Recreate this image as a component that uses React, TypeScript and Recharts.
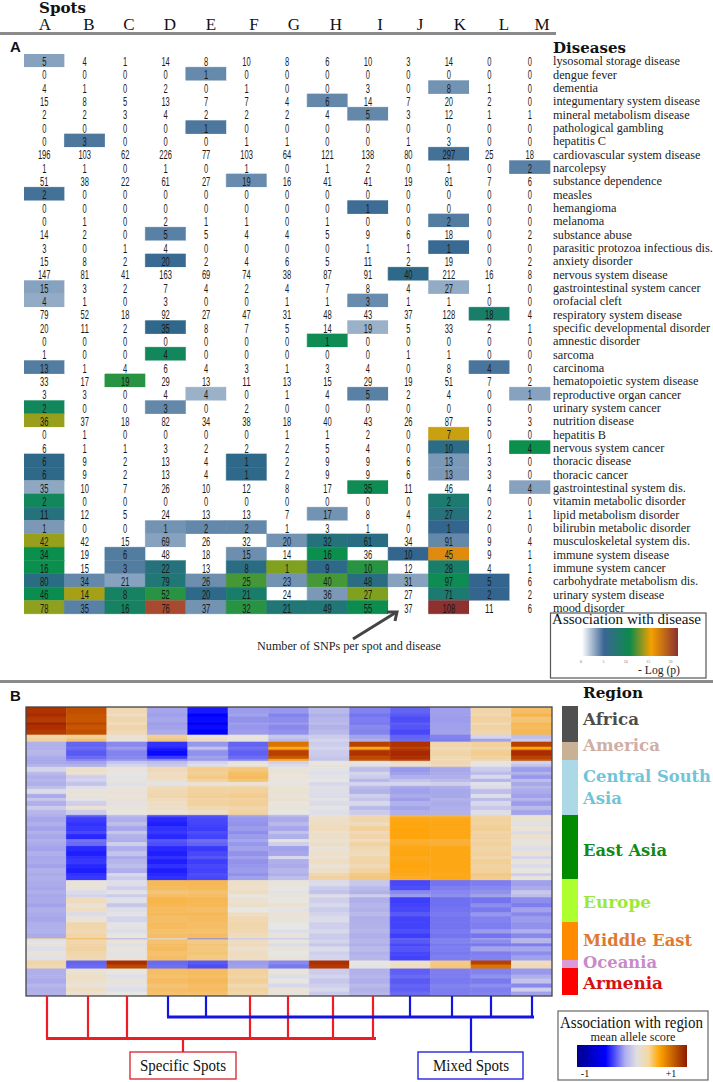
import { BarChart, Bar, Cell, XAxis, YAxis, LabelList } from "recharts";

const spots = ["A", "B", "C", "D", "E", "F", "G", "H", "I", "J", "K", "L", "M"];

const diseases = [
  "lysosomal storage disease", "dengue fever", "dementia", "integumentary system disease",
  "mineral metabolism disease", "pathological gambling", "hepatitis C", "cardiovascular system disease",
  "narcolepsy", "substance dependence", "measles", "hemangioma", "melanoma", "substance abuse",
  "parasitic protozoa infectious dis.", "anxiety disorder", "nervous system disease",
  "gastrointestinal system cancer", "orofacial cleft", "respiratory system disease",
  "specific developmental disorder", "amnestic disorder", "sarcoma", "carcinoma",
  "hematopoietic system disease", "reproductive organ cancer", "urinary system cancer",
  "nutrition disease", "hepatitis B", "nervous system cancer", "thoracic disease", "thoracic cancer",
  "gastrointestinal system dis.", "vitamin metabolic disorder", "lipid metabolism disorder",
  "bilirubin metabolic disorder", "musculoskeletal system dis.", "immune system disease",
  "immune system cancer", "carbohydrate metabolism dis.", "urinary system disease", "mood disorder",
];

// number of SNPs per spot and disease
const snpCounts = [
  [5, 4, 1, 14, 8, 10, 8, 6, 10, 3, 14, 0, 0],
  [0, 0, 0, 0, 1, 0, 0, 0, 0, 0, 0, 0, 0],
  [4, 1, 0, 2, 0, 1, 0, 0, 3, 0, 8, 1, 0],
  [15, 8, 5, 13, 7, 7, 4, 6, 14, 7, 20, 2, 0],
  [2, 2, 3, 4, 2, 2, 2, 4, 5, 3, 12, 1, 1],
  [0, 0, 0, 0, 1, 0, 0, 0, 0, 0, 0, 0, 0],
  [0, 3, 0, 0, 0, 1, 1, 0, 0, 1, 3, 0, 0],
  [196, 103, 62, 226, 77, 103, 64, 121, 138, 80, 297, 25, 18],
  [1, 1, 0, 1, 0, 1, 0, 1, 2, 0, 1, 0, 2],
  [51, 38, 22, 61, 27, 19, 16, 41, 41, 19, 81, 7, 6],
  [2, 0, 0, 0, 0, 0, 0, 0, 0, 0, 0, 0, 0],
  [0, 0, 0, 0, 0, 0, 0, 0, 1, 0, 0, 0, 0],
  [0, 1, 0, 2, 1, 1, 0, 1, 0, 0, 2, 0, 0],
  [14, 2, 0, 5, 5, 4, 4, 5, 9, 6, 18, 0, 2],
  [3, 0, 1, 4, 0, 0, 0, 0, 1, 1, 1, 0, 0],
  [15, 8, 2, 20, 2, 4, 6, 5, 11, 2, 19, 0, 2],
  [147, 81, 41, 163, 69, 74, 38, 87, 91, 40, 212, 16, 8],
  [15, 3, 2, 7, 4, 2, 4, 7, 8, 4, 27, 1, 0],
  [4, 1, 0, 3, 0, 0, 1, 1, 3, 1, 1, 0, 0],
  [79, 52, 18, 92, 27, 47, 31, 48, 43, 37, 128, 18, 4],
  [20, 11, 2, 35, 8, 7, 5, 14, 19, 5, 33, 2, 1],
  [0, 0, 0, 0, 0, 0, 0, 1, 0, 0, 0, 0, 0],
  [1, 0, 0, 4, 0, 0, 0, 0, 0, 1, 1, 0, 0],
  [13, 1, 4, 6, 4, 3, 1, 3, 4, 0, 8, 4, 0],
  [33, 17, 19, 29, 13, 11, 13, 15, 29, 19, 51, 7, 2],
  [3, 3, 0, 4, 4, 0, 1, 4, 5, 2, 4, 0, 1],
  [2, 0, 0, 3, 0, 2, 0, 0, 0, 0, 0, 0, 0],
  [36, 37, 18, 82, 34, 38, 18, 40, 43, 26, 87, 5, 3],
  [0, 1, 0, 0, 0, 0, 1, 1, 2, 0, 7, 0, 0],
  [6, 1, 1, 3, 2, 2, 2, 5, 4, 0, 10, 1, 4],
  [6, 9, 2, 13, 4, 1, 2, 9, 9, 6, 13, 3, 0],
  [6, 9, 2, 13, 4, 1, 2, 9, 9, 6, 13, 3, 0],
  [35, 10, 7, 26, 10, 12, 8, 17, 35, 11, 46, 4, 4],
  [2, 0, 0, 0, 0, 0, 0, 0, 0, 0, 2, 0, 0],
  [11, 12, 5, 24, 13, 13, 7, 17, 8, 4, 27, 2, 1],
  [1, 0, 0, 1, 2, 2, 1, 3, 1, 0, 1, 0, 0],
  [42, 42, 15, 69, 26, 32, 20, 32, 61, 34, 91, 9, 4],
  [34, 19, 6, 48, 18, 15, 14, 16, 36, 10, 45, 9, 1],
  [16, 15, 3, 22, 13, 8, 1, 9, 10, 12, 28, 4, 1],
  [80, 34, 21, 79, 26, 25, 23, 40, 48, 31, 97, 5, 6],
  [46, 14, 8, 52, 20, 21, 24, 36, 27, 27, 71, 2, 2],
  [78, 35, 16, 76, 37, 32, 21, 49, 55, 37, 108, 11, 6],
];

// -log(p) per spot and disease, 0 = not significant
const assocLogP = [
  [2.5, 0, 0, 0, 0, 0, 0, 0, 0, 0, 0, 0, 0],
  [0, 0, 0, 0, 3.4, 0, 0, 0, 0, 0, 0, 0, 0],
  [0, 0, 0, 0, 0, 0, 0, 0, 0, 0, 3, 0, 0],
  [0, 0, 0, 0, 0, 0, 0, 3.5, 0, 0, 0, 0, 0],
  [0, 0, 0, 0, 0, 0, 0, 0, 3.5, 0, 0, 0, 0],
  [0, 0, 0, 0, 4.2, 0, 0, 0, 0, 0, 0, 0, 0],
  [0, 4.2, 0, 0, 0, 0, 0, 0, 0, 0, 0, 0, 0],
  [0, 0, 0, 0, 0, 0, 0, 0, 0, 0, 4.5, 0, 0],
  [0, 0, 0, 0, 0, 0, 0, 0, 0, 0, 0, 0, 3.8],
  [0, 0, 0, 0, 0, 3.3, 0, 0, 0, 0, 0, 0, 0],
  [4.5, 0, 0, 0, 0, 0, 0, 0, 0, 0, 0, 0, 0],
  [0, 0, 0, 0, 0, 0, 0, 0, 4.7, 0, 0, 0, 0],
  [0, 0, 0, 0, 0, 0, 0, 0, 0, 0, 4, 0, 0],
  [0, 0, 0, 3.8, 0, 0, 0, 0, 0, 0, 0, 0, 0],
  [0, 0, 0, 0, 0, 0, 0, 0, 0, 0, 4.8, 0, 0],
  [0, 0, 0, 4.8, 0, 0, 0, 0, 0, 0, 0, 0, 0],
  [0, 0, 0, 0, 0, 0, 0, 0, 0, 5.5, 0, 0, 0],
  [2.5, 0, 0, 0, 0, 0, 0, 0, 0, 0, 2.2, 0, 0],
  [2.2, 0, 0, 0, 0, 0, 0, 0, 3.3, 0, 0, 0, 0],
  [0, 0, 0, 0, 0, 0, 0, 0, 0, 0, 0, 8, 0],
  [0, 0, 0, 5.3, 0, 0, 0, 0, 2, 0, 0, 0, 0],
  [0, 0, 0, 0, 0, 0, 0, 9.5, 0, 0, 0, 0, 0],
  [0, 0, 0, 9, 0, 0, 0, 0, 0, 0, 0, 0, 0],
  [4, 0, 0, 0, 0, 0, 0, 0, 0, 0, 0, 4.3, 0],
  [0, 0, 10.5, 0, 0, 0, 0, 0, 0, 0, 0, 0, 0],
  [0, 0, 0, 0, 2, 0, 0, 0, 3.8, 0, 0, 0, 2.5],
  [9, 0, 0, 3.5, 0, 0, 0, 0, 0, 0, 0, 0, 0],
  [12.5, 0, 0, 0, 0, 0, 0, 0, 0, 0, 0, 0, 0],
  [0, 0, 0, 0, 0, 0, 0, 0, 0, 0, 13.5, 0, 0],
  [0, 0, 0, 0, 0, 0, 0, 0, 0, 0, 5.8, 0, 10],
  [5.5, 0, 0, 0, 0, 5.5, 0, 0, 0, 0, 2.8, 0, 0],
  [5.5, 0, 0, 0, 0, 5.5, 0, 0, 0, 0, 2.8, 0, 0],
  [2.3, 0, 0, 0, 0, 0, 0, 0, 9.5, 0, 0, 0, 2.5],
  [9, 0, 0, 0, 0, 0, 0, 0, 0, 0, 7.5, 0, 0],
  [6.5, 0, 0, 0, 0, 0, 0, 3, 0, 0, 6.5, 0, 0],
  [2.8, 0, 0, 3, 3.5, 3.5, 0, 0, 0, 0, 5, 0, 0],
  [12.5, 0, 0, 2.5, 0, 0, 3, 6.5, 6, 0, 3.5, 0, 0],
  [10, 0, 4, 0, 0, 3.2, 0, 10, 0, 5, 16, 0, 0],
  [10, 0, 4, 6.5, 0, 6, 12, 5.5, 10.5, 0, 8, 0, 0],
  [6, 3.5, 2.5, 7, 3.2, 11, 3, 11, 6, 2.5, 9.5, 5, 0],
  [9.8, 12.8, 8.5, 10.5, 5.5, 8, 0, 2.8, 12, 0, 7.5, 5, 0],
  [12.3, 3.8, 8.5, 19, 3, 10.5, 7, 7, 9.8, 0, 20, 0, 0],
];

const regions = ["Africa", "America", "Central South Asia", "East Asia", "Europe", "Middle East", "Oceania", "Armenia"];
const regionSpans = [36, 18, 55, 64, 43, 38, 8, 27];
const regionFills = ["#505050", "#c9b196", "#add8e6", "#008b00", "#adff2f", "#ff8c00", "#dc9ad6", "#ff0000"];

// height of each band of SNPs in the panel B heatmap
const heatSpans = [
  7, 3, 6, 2, 5, 5, 4, 3, 5, 3, 6, 3, 2, 3, 3,
  5, 3, 4, 3, 4, 3, 5, 4, 3, 5, 4, 5,
  2, 5, 4, 5, 3, 5, 3, 4, 5, 5, 3, 5, 4, 5, 3, 4,
  6, 4, 4, 3, 6, 4, 5, 4, 6,
  7, 4, 5, 1, 4, 3, 5, 4, 5,
  4, 4,
  6, 4, 5, 4, 4, 4,
];

// mean allele score x100 per band (rows) and spot (columns)
const heatRows = [
  [92, 84, 20, -35, -85, -40, -42, -24, -50, -62, -38, 24, 42],
  [94, 82, 14, -38, -90, -36, -50, -30, -56, -66, -38, 20, 52],
  [90, 82, 22, -34, -88, -44, -46, -26, -52, -70, -40, 28, 38],
  [96, 86, 12, -40, -92, -38, -40, -22, -54, -64, -38, 16, 50],
  [93, 82, 24, -36, -88, -42, -48, -28, -48, -68, -38, 26, 44],
  [90, 84, 18, -32, -90, -40, -44, -24, -50, -72, -36, 22, 48],
  [24, 30, 8, 30, 8, 3, -18, -16, -36, -62, -50, -12, -22],
  [28, 40, 4, 36, 14, 4, -24, -12, -30, -60, -52, -36, -16],
  [-28, -62, -48, -80, -42, -62, 80, -15, 88, 92, 22, 28, 88],
  [-30, -60, -40, -84, -20, -58, 72, -12, 72, 88, 18, 22, 76],
  [-26, -66, -50, -88, -45, -64, 88, -16, 92, 95, 24, 32, 94],
  [-32, -60, -48, -78, -38, -60, 82, -18, 86, 93, 20, 26, 88],
  [-34, -50, -44, -50, -42, -50, 76, -20, 84, 90, 16, 24, 84],
  [-34, -36, -20, -22, -12, 4, -14, 2, 2, 14, 22, 3, -12],
  [-28, -30, -12, -18, -6, 2, -8, 4, -4, 10, 18, -2, -20],
  [-12, 10, 3, 18, 32, 36, 4, -2, -22, -42, -34, -16, -40],
  [-24, 8, 1, 14, 30, 42, 6, -6, -12, -38, -32, -24, -28],
  [-30, -14, -2, 16, 34, 44, 5, -2, -16, -30, -30, -10, -42],
  [-26, -12, 4, 10, 28, 38, 2, 0, -26, -20, -24, -28, -22],
  [-30, -20, -4, -2, 6, 6, 3, -10, -12, -12, -14, -4, -34],
  [-22, -4, 2, 16, 24, 24, 6, -4, -24, -34, -30, -8, -26],
  [-8, 4, 6, 20, 26, 28, 8, -6, -28, -38, -34, -22, -32],
  [-32, 6, 3, 22, 30, 32, 4, -8, -14, -32, -34, -6, -38],
  [-18, -2, 8, 16, 24, 26, 10, -2, -20, -40, -28, -24, -26],
  [-30, -14, -3, 14, 28, 30, 2, -8, -10, -28, -32, -10, -40],
  [-16, 8, 6, 12, 20, 22, 6, -2, -24, -36, -30, -18, -24],
  [-26, -16, 2, 8, 14, 26, 0, -6, -16, -30, -28, -6, -36],
  [-30, -65, -24, -70, -68, -36, -26, 8, 20, 52, 54, 22, 4],
  [-34, -76, -30, -82, -72, -42, -32, 12, 22, 74, 72, 28, 8],
  [-30, -80, -22, -84, -74, -44, -24, 14, 16, 76, 74, 26, -4],
  [-36, -78, -34, -80, -76, -40, -34, 16, 28, 78, 74, 30, 6],
  [-28, -72, -18, -78, -70, -46, -20, 10, 18, 76, 74, 24, -8],
  [-34, -82, -28, -82, -74, -40, -30, 12, 24, 78, 74, 26, 10],
  [-28, -56, -30, -66, -58, -34, 4, 8, 14, 62, 58, 22, -2],
  [-32, -60, -14, -70, -62, -42, -14, 12, 26, 66, 60, 28, 6],
  [-36, -82, -30, -82, -78, -36, -38, 6, 20, 74, 74, 24, -6],
  [-30, -84, -20, -84, -72, -44, -34, 10, 16, 76, 74, 28, 8],
  [-34, -80, -32, -80, -68, -38, -10, 8, 22, 70, 74, 22, -12],
  [-32, -78, -26, -84, -76, -44, -30, 14, 24, 74, 74, 30, 4],
  [-36, -82, -22, -80, -72, -42, -32, 6, 18, 78, 74, 26, -8],
  [-30, -84, -30, -84, -74, -40, -26, 12, 26, 74, 74, 28, 2],
  [-32, -80, -10, -82, -70, -44, -30, 22, 34, 70, 70, 34, -14],
  [-30, -78, -16, -80, -72, -38, -22, 26, 36, 66, 72, 32, 4],
  [-32, 6, -6, 46, 48, 12, 4, -8, -18, -72, -56, -52, -38],
  [-34, 4, -14, 44, 46, 10, 2, -16, -24, -70, -52, -48, -32],
  [-30, -8, -2, 38, 40, 14, -2, -20, -28, -48, -48, -44, -18],
  [-34, -12, -16, 42, 42, 2, 6, -6, -14, -40, -46, -36, -22],
  [-32, 16, -4, 52, 48, 8, 2, -14, -30, -76, -58, -56, -46],
  [-36, 8, -18, 48, 46, 12, 8, -10, -26, -74, -58, -46, -52],
  [-30, 14, -6, 44, 42, 0, -2, -16, -28, -72, -56, -54, -36],
  [-32, -8, -2, 46, 46, 14, 6, -12, -24, -66, -54, -42, -48],
  [-34, 6, -12, 42, 44, 20, 4, -8, -30, -74, -56, -50, -40],
  [-30, 22, -2, 44, 42, 22, 0, -14, -28, -74, -56, -52, -44],
  [-28, 20, -6, 40, 40, 20, -6, -10, -26, -70, -54, -40, -30],
  [-32, 24, 2, 42, 44, 16, 4, -16, -30, -76, -56, -56, -48],
  [30, 48, -30, -8, -50, -20, -20, -18, -28, -60, -50, -30, -20],
  [-2, 22, 6, 40, 34, 14, 2, -12, -26, -66, -50, -46, -26],
  [4, 24, -4, 42, 38, 18, -8, -18, -30, -72, -54, -54, -52],
  [-6, 26, 3, 44, 36, 10, 4, -8, -24, -68, -52, -36, -34],
  [6, 22, -2, 40, 38, 16, 0, -14, -28, -72, -54, -52, -46],
  [-4, 20, 4, 42, 34, 14, 6, -12, -26, -74, -52, -50, -38],
  [24, -62, 94, -60, -66, -40, -48, 93, 2, 10, 34, 88, 14],
  [20, -60, 86, -58, -70, -38, -54, 90, -2, 14, 36, 80, 18],
  [-30, 8, 2, 42, 44, 28, 4, -16, -28, -64, -52, -50, -42],
  [-28, 12, -4, 40, 42, 24, -6, -12, -26, -60, -52, -44, -30],
  [-32, 10, 4, 44, 46, 30, 2, -18, -30, -66, -54, -54, -20],
  [-26, 6, -2, 38, 42, 20, -10, -14, -24, -62, -50, -46, -48],
  [-30, 14, -6, 42, 44, 26, 6, -10, -28, -64, -52, -52, -14],
  [-28, 8, 0, 40, 40, 22, 4, -16, -26, -60, -52, -50, -36],
];

const headerX = [45, 89, 129, 170, 211, 254, 294, 336, 380, 420, 460, 504, 542];
const specificTicks = [47, 88, 127, 250, 288, 333, 373];
const mixedTicks = [168, 206, 410, 452, 491, 532];

const SERIF = "'Liberation Serif', serif";
const BOLD = "'DejaVu Serif', serif";
const NARROW = "'Liberation Sans Narrow', 'Liberation Sans', sans-serif";

function lerpColor(stops: [number, string][], v: number) {
  if (v <= stops[0][0]) return stops[0][1];
  for (let i = 1; i < stops.length; i++) {
    if (v <= stops[i][0]) {
      const [a, ca] = stops[i - 1];
      const [b, cb] = stops[i];
      const t = (v - a) / (b - a);
      const ch = (c: string, k: number) => parseInt(c.slice(1 + k * 2, 3 + k * 2), 16);
      const m = [0, 1, 2].map((k) => Math.round(ch(ca, k) + (ch(cb, k) - ch(ca, k)) * t));
      return `rgb(${m.join(",")})`;
    }
  }
  return stops[stops.length - 1][1];
}

const assocStops: [number, string][] = [
  [0, "#ffffff"], [0.01, "#b4c5d6"], [2, "#9bb1c8"], [3, "#7393b3"], [5, "#33658f"], [7.5, "#1d7a70"],
  [10, "#0b8f4d"], [12, "#80a020"], [13.5, "#c8a010"], [16, "#e08a10"], [19, "#a84a30"], [20, "#8c3030"],
];
const heatStops: [number, string][] = [
  [-100, "#00008b"], [-90, "#0000ff"], [-80, "#3232ff"], [-60, "#6a6af2"], [-40, "#9c9cec"], [-25, "#b8b8ea"],
  [-10, "#d8d8ec"], [0, "#e6e6e4"], [15, "#efdcc0"], [30, "#f2cf96"], [45, "#f6ba5a"], [78, "#ffa40a"],
  [81, "#c85a00"], [95, "#a82800"], [100, "#7a1500"],
];

const diseaseTable = diseases.map((disease, r) => {
  const row: Record<string, string | number> = { disease };
  spots.forEach((_, c) => {
    row[`u${c}`] = 1;
    row[`n${c}`] = snpCounts[r][c];
  });
  return row;
});

const heatTable = spots.map((spot) => {
  const row: Record<string, string | number> = { spot };
  heatSpans.forEach((span, i) => {
    row[`r${i}`] = span;
  });
  return row;
});

const regionTable = [
  Object.fromEntries([["name", "region"], ...regions.map((name, i) => [name, regionSpans[i]])]),
];

const countLabel = (p: any) => {
  const s = String(p.value);
  return (
    <text
      x={p.x + p.width / 2}
      y={p.y + p.height / 2 + 5.5}
      textAnchor="middle"
      fontFamily={NARROW}
      fontSize={12}
      fill="#1a1a1a"
      textLength={s.length * 4.2}
      lengthAdjust="spacingAndGlyphs"
    >
      {s}
    </text>
  );
};

// plain text tick, the default one wraps long names
const diseaseTick = (p: any) => (
  <text x={p.x - 6} y={p.y + 4.5} fontFamily={SERIF} fontSize={12.3} fill="#222">
    {p.payload.value}
  </text>
);

function Txt({ x, y, size, w, children, fill = "#111", family = SERIF, weight, anchor }: any) {
  return (
    <text
      x={x}
      y={y}
      fontSize={size}
      fill={fill}
      fontFamily={family}
      fontWeight={weight}
      textAnchor={anchor}
      textLength={w}
      lengthAdjust={w ? "spacingAndGlyphs" : undefined}
    >
      {children}
    </text>
  );
}

function Overlay() {
  const region = (label: string, y: number, fill: string, w: number) => (
    <Txt x={583} y={y} size={17} family={BOLD} weight="bold" fill={fill} w={w}>
      {label}
    </Txt>
  );
  return (
    <svg width={713} height={1082} style={{ position: "absolute", left: 0, top: 0, pointerEvents: "none" }}>
      <defs>
        <linearGradient id="gradDisease">
          <stop offset="0" stopColor="#ffffff" />
          <stop offset="0.23" stopColor="#3a6595" />
          <stop offset="0.5" stopColor="#0d8a4a" />
          <stop offset="0.72" stopColor="#f5a000" />
          <stop offset="1" stopColor="#8a3030" />
        </linearGradient>
        <linearGradient id="gradRegion">
          <stop offset="0" stopColor="#00008b" />
          <stop offset="0.26" stopColor="#0000ff" />
          <stop offset="0.44" stopColor="#b0b0f0" />
          <stop offset="0.545" stopColor="#e0e0e0" />
          <stop offset="0.65" stopColor="#f5d8a0" />
          <stop offset="0.75" stopColor="#ffa500" />
          <stop offset="1" stopColor="#8b1a00" />
        </linearGradient>
      </defs>

      <rect x={0} y={32} width={556} height={3} fill="#8a8a8a" />
      <rect x={0} y={680} width={713} height={3} fill="#8a8a8a" />

      <Txt x={39} y={13} size={15} family={BOLD} weight="bold" w={47}>Spots</Txt>
      {spots.map((s, i) => (
        <Txt key={s} x={headerX[i]} y={30} size={17} anchor="middle">{s}</Txt>
      ))}
      <Txt x={10} y={52} size={15} family="'Liberation Sans', sans-serif" weight="bold">A</Txt>
      <Txt x={10} y={701} size={15} family="'Liberation Sans', sans-serif" weight="bold">B</Txt>
      <Txt x={553} y={53} size={15} family={BOLD} weight="bold" w={73}>Diseases</Txt>

      <Txt x={257} y={650} size={13} w={184} fill="#222">Number of SNPs per spot and disease</Txt>
      <path d="M353 639 L395 613" stroke="#444" strokeWidth={3} fill="none" />
      <path d="M387 612 L397 612 L395 621" stroke="#444" strokeWidth={3} fill="none" />

      <rect x={550.5} y={613} width={155.5} height={65} fill="#fff" stroke="#555" strokeWidth={1.2} />
      <Txt x={552} y={624} size={15} w={149}>Association with disease</Txt>
      <rect x={582} y={628} width={96} height={28} fill="url(#gradDisease)" />
      {["0", "5", "10", "15", "20"].map((t, i) => (
        <Txt key={t} x={581 + i * 22.4} y={663} size={4} fill="#777" anchor="middle">{t}</Txt>
      ))}
      <Txt x={638} y={674} size={13} w={42} fill="#222">- Log (p)</Txt>

      <rect x={26} y={707} width={526} height={289} fill="none" stroke="#444" strokeWidth={1.3} />

      <Txt x={583} y={698} size={15} family={BOLD} weight="bold" w={60}>Region</Txt>
      {region("Africa", 725, "#4d4d4d", 56)}
      {region("America", 751, "#cfaea6", 77)}
      {region("Central South", 782, "#70c4d8", 128)}
      {region("Asia", 804, "#70c4d8", 39)}
      {region("East Asia", 856, "#118a18", 84)}
      {region("Europe", 908, "#9ee83a", 68)}
      {region("Middle East", 946, "#e0792d", 109)}
      {region("Oceania", 968, "#c98ac8", 74)}
      {region("Armenia", 989, "#d81010", 80)}

      {specificTicks.map((x) => (
        <line key={x} x1={x} x2={x} y1={996} y2={1038} stroke="#ee1c25" strokeWidth={2.2} />
      ))}
      <line x1={46} x2={376} y1={1038.5} y2={1038.5} stroke="#ee1c25" strokeWidth={3} />
      <line x1={183} x2={183} y1={1038} y2={1052} stroke="#ee1c25" strokeWidth={2.2} />
      <rect x={130} y={1052} width={106} height={27} fill="#fff" stroke="#d8202a" strokeWidth={1.3} />
      <Txt x={183} y={1071} size={16} anchor="middle" w={86}>Specific Spots</Txt>

      {mixedTicks.map((x) => (
        <line key={x} x1={x} x2={x} y1={996} y2={1017} stroke="#1414e0" strokeWidth={2.2} />
      ))}
      <line x1={167} x2={534} y1={1017} y2={1017} stroke="#1414e0" strokeWidth={3} />
      <line x1={471} x2={471} y1={1017} y2={1052} stroke="#1414e0" strokeWidth={2.2} />
      <rect x={418} y={1052} width={105} height={27} fill="#fff" stroke="#1414e0" strokeWidth={1.3} />
      <Txt x={471} y={1071} size={16} anchor="middle" w={76}>Mixed Spots</Txt>

      <rect x={558} y={1011} width={150} height={69} fill="#fff" stroke="#666" strokeWidth={1.2} />
      <Txt x={560} y={1028} size={16} w={143}>Association with region</Txt>
      <Txt x={633} y={1041} size={12} anchor="middle" w={85} fill="#222">mean allele score</Txt>
      <rect x={577} y={1045} width={110} height={22} fill="url(#gradRegion)" />
      <Txt x={585} y={1077} size={10} anchor="middle">-1</Txt>
      <Txt x={671} y={1077} size={10} anchor="middle">+1</Txt>
    </svg>
  );
}

export default function App() {
  return (
    <div style={{ position: "absolute", left: 0, top: 0, width: 713, height: 1082, background: "#fff", overflow: "hidden" }}>
      <div style={{ position: "absolute", left: 24, top: 54 }}>
        <BarChart
          width={689}
          height={566}
          layout="vertical"
          data={diseaseTable}
          barCategoryGap={0}
          barGap={0}
          margin={{ top: 0, right: 0, bottom: 6, left: 0 }}
        >
          <XAxis type="number" domain={[0, 13]} hide />
          <YAxis
            type="category"
            dataKey="disease"
            orientation="right"
            width={163}
            interval={0}
            axisLine={false}
            tickLine={false}
            tickMargin={3}
            tick={diseaseTick}
          />
          {spots.map((s, c) => (
            <Bar key={s} dataKey={`u${c}`} stackId="spots" isAnimationActive={false}>
              {diseases.map((d, r) => {
                const fill = lerpColor(assocStops, assocLogP[r][c]);
                return <Cell key={d} fill={fill} stroke={assocLogP[r][c] > 0 ? fill : "none"} strokeWidth={0.7} />;
              })}
              <LabelList dataKey={`n${c}`} content={countLabel} />
            </Bar>
          ))}
        </BarChart>
      </div>

      <div style={{ position: "absolute", left: 26, top: 707 }}>
        <BarChart
          width={526}
          height={289}
          data={heatTable}
          barCategoryGap={0}
          barGap={0}
          margin={{ top: 0, right: 0, bottom: 0, left: 0 }}
        >
          <XAxis dataKey="spot" hide />
          <YAxis type="number" reversed domain={[0, 288]} hide />
          {heatRows.map((row, i) => (
            <Bar key={i} dataKey={`r${i}`} stackId="snps" isAnimationActive={false}>
              {row.map((v, c) => {
                const fill = lerpColor(heatStops, v);
                return <Cell key={c} fill={fill} stroke={fill} strokeWidth={0.8} />;
              })}
            </Bar>
          ))}
        </BarChart>
      </div>

      <div style={{ position: "absolute", left: 562, top: 706 }}>
        <BarChart
          width={16}
          height={289}
          data={regionTable}
          barCategoryGap={0}
          margin={{ top: 0, right: 0, bottom: 0, left: 0 }}
        >
          <XAxis dataKey="name" hide />
          <YAxis type="number" reversed domain={[0, 289]} hide />
          {regions.map((name, i) => (
            <Bar key={name} dataKey={name} stackId="region" fill={regionFills[i]} isAnimationActive={false} />
          ))}
        </BarChart>
      </div>

      <Overlay />
    </div>
  );
}
